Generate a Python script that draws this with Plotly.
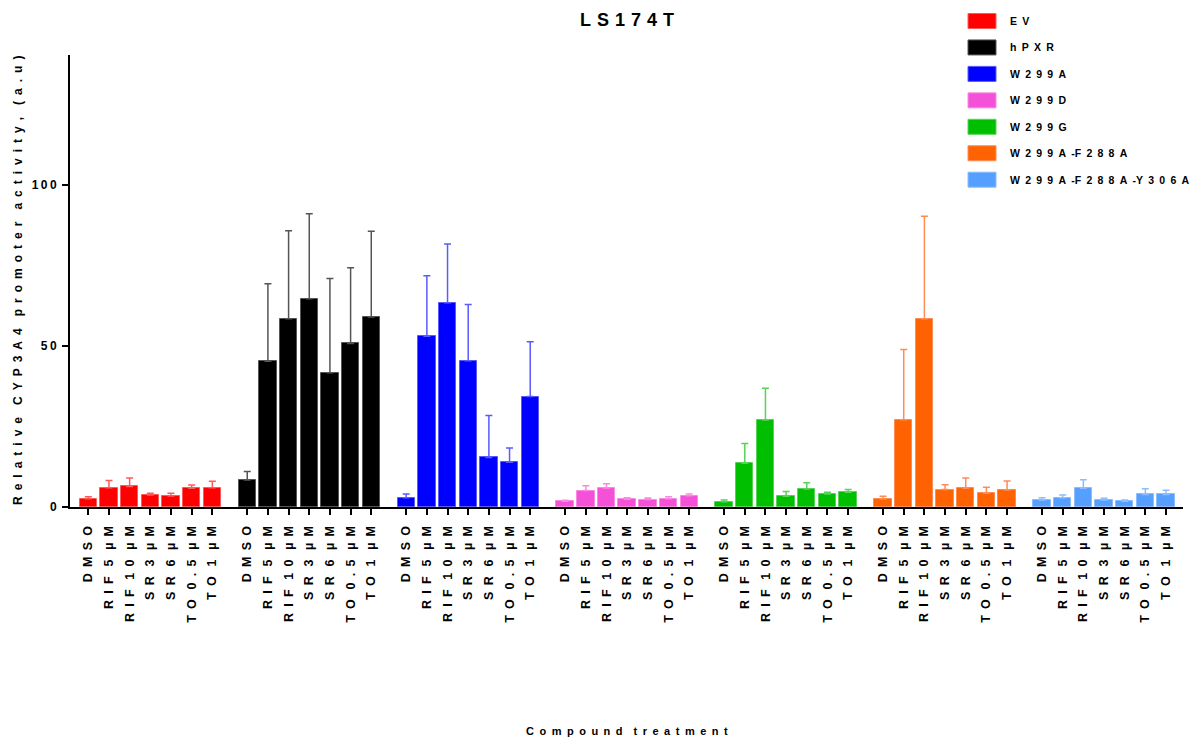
import plotly.graph_objects as go

# ---- data -------------------------------------------------------------
treatments = ["DMSO", "RIF 5 µM", "RIF 10 µM", "SR 3 µM", "SR 6 µM", "TO 0.5 µM", "TO 1 µM"]
constructs = ["EV", "hPXR", "W299A", "W299D", "W299G", "W299A-F288A", "W299A-F288A-Y306A"]

ev_mean = [2.6, 6.0, 6.4, 3.7, 3.4, 5.8, 6.0]
ev_sd = [0.6, 2.2, 2.6, 0.6, 0.9, 1.0, 2.0]
hpxr_mean = [8.4, 45.3, 58.5, 64.7, 41.7, 50.8, 59.0]
hpxr_sd = [2.6, 24.0, 27.3, 26.4, 29.3, 23.5, 26.6]
w299a_mean = [2.9, 53.0, 63.4, 45.4, 15.4, 13.9, 34.3]
w299a_sd = [1.1, 18.8, 18.3, 17.5, 13.0, 4.4, 17.0]
w299d_mean = [1.8, 5.1, 5.9, 2.4, 2.3, 2.6, 3.5]
w299d_sd = [0.3, 1.5, 1.3, 0.5, 0.5, 0.6, 0.5]
w299g_mean = [1.6, 13.6, 27.0, 3.3, 5.6, 4.0, 4.6]
w299g_sd = [0.6, 6.1, 9.9, 1.5, 1.9, 0.6, 0.8]
w299a_f288a_mean = [2.5, 27.1, 58.5, 5.4, 5.8, 4.3, 5.3]
w299a_f288a_sd = [0.8, 21.8, 31.8, 1.5, 3.2, 1.8, 2.8]
w299a_f288a_y306a_mean = [2.2, 2.9, 5.8, 2.2, 1.8, 3.9, 3.9]
w299a_f288a_y306a_sd = [0.7, 0.8, 2.7, 0.5, 0.4, 1.8, 1.3]

y_ticks = [0, 50, 100]

# ---- styling ----------------------------------------------------------
fills = ["#FF0000", "#000000", "#0000FF", "#F550D8", "#00BF00", "#FF6200", "#55A0FF"]
edges = ["#FF5A5A", "#555555", "#5A5AFF", "#F98AE4", "#55D455", "#FF8C55", "#8CBEFF"]

FONT = "Liberation Sans, Arial, sans-serif"
EN = "\u2002"


def spaced(text, gap=EN, word_gap=EN + EN):
    """Wide letter spacing, the way the axis texts are set."""
    return word_gap.join(gap.join(word) for word in text.split(" "))


means = [ev_mean, hpxr_mean, w299a_mean, w299d_mean, w299g_mean,
         w299a_f288a_mean, w299a_f288a_y306a_mean]
sds = [ev_sd, hpxr_sd, w299a_sd, w299d_sd, w299g_sd,
       w299a_f288a_sd, w299a_f288a_y306a_sd]

group_step = 7.69          # slots per construct group (7 bars + gap)
bar_width = 0.84

fig = go.Figure()
tick_pos, tick_txt = [], []
for g, name in enumerate(constructs):
    xs = [g * group_step + i for i in range(len(treatments))]
    tick_pos += xs
    tick_txt += [spaced(t, word_gap=EN + " ") for t in treatments]
    fig.add_trace(go.Bar(
        x=xs, y=means[g], name=name, width=bar_width,
        marker=dict(color=fills[g], line=dict(color=edges[g], width=1)),
        error_y=dict(type="data", array=sds[g], arrayminus=[0] * len(sds[g]),
                     symmetric=False, color=edges[g], thickness=1.5, width=3.5),
        showlegend=False,
    ))

# plot area in pixels
L, R, T, B = 70, 1183, 55, 507
W_PX, H_PX = 1204, 741


def px_x(px):
    return (px - L) / (R - L)


def px_y(py):
    return (B - py) / (B - T)


shapes, annotations = [], []

# legend swatches + labels
for k, name in enumerate(constructs):
    yc = 21 + k * 26.45
    shapes.append(dict(type="rect", xref="paper", yref="paper",
                       x0=px_x(968), x1=px_x(996), y0=px_y(yc + 7.5), y1=px_y(yc - 7.5),
                       fillcolor=fills[k], line=dict(color=edges[k], width=1), layer="above"))
    label = EN.join(name).replace(EN + "-" + EN, EN + "-")
    annotations.append(dict(xref="paper", yref="paper", x=px_x(1008), y=px_y(yc),
                            xanchor="left", yanchor="middle", showarrow=False,
                            text=label, font=dict(family=FONT, size=10.5, color="black", weight="bold")))

# title and axis titles
annotations.append(dict(xref="paper", yref="paper", x=0.5, y=px_y(20), xanchor="center",
                        yanchor="middle", showarrow=False, text=spaced("LS174T", gap="\u2004"),
                        font=dict(family=FONT, size=18, color="black", weight="bold")))
annotations.append(dict(xref="paper", yref="paper", x=0.5, y=px_y(731), xanchor="center",
                        yanchor="middle", showarrow=False, text=spaced("Compound treatment"),
                        font=dict(family=FONT, size=11, color="black", weight="bold")))
annotations.append(dict(xref="paper", yref="paper", x=0, xshift=-52, y=0.5, xanchor="center",
                        yanchor="middle", showarrow=False, textangle=-90,
                        text=spaced("Relative CYP3A4 promoter activity, (a.u)"),
                        font=dict(family=FONT, size=12, color="black", weight="bold")))

x_left = -(88.3 - L) / 20.67
x_right = (R - 88.3) / 20.67

fig.update_layout(
    width=W_PX, height=H_PX,
    margin=dict(l=L, r=W_PX - R, t=T, b=H_PX - B, pad=0),
    paper_bgcolor="white", plot_bgcolor="white",
    font=dict(family=FONT, color="black"),
    bargap=0, barmode="overlay",
    shapes=shapes, annotations=annotations,
    xaxis=dict(range=[x_left, x_right], tickmode="array", tickvals=tick_pos, ticktext=tick_txt,
               tickangle=-90, ticks="outside", ticklen=6, tickwidth=2, tickcolor="black",
               ticklabelstandoff=6,
               showline=True, linewidth=2, linecolor="black", showgrid=False, zeroline=False,
               tickfont=dict(family=FONT, size=12.5, color="black", weight="bold")),
    yaxis=dict(range=[0, (B - T) / 3.22], tickmode="array", tickvals=y_ticks,
               ticktext=[spaced(str(v), gap="\u2009") for v in y_ticks],
               ticks="outside", ticklen=6, tickwidth=2, tickcolor="black",
               ticklabelstandoff=3,
               showline=True, linewidth=2, linecolor="black", showgrid=False, zeroline=False,
               tickfont=dict(family=FONT, size=12, color="black", weight="bold")),
)

fig.write_html("out.html")
